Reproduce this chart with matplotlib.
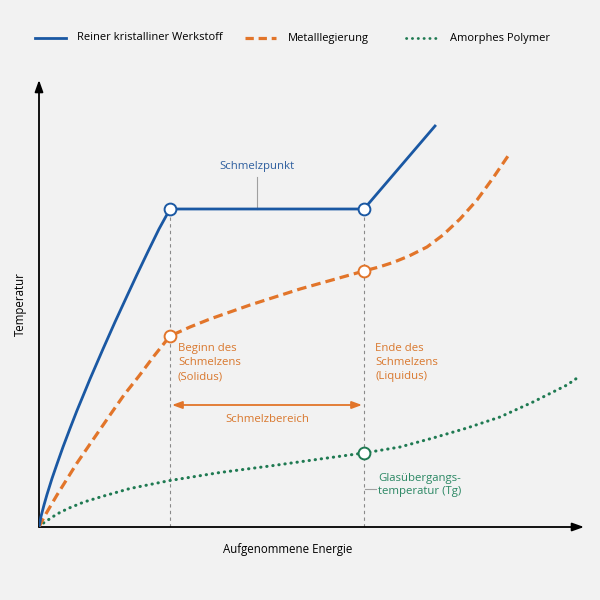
import matplotlib
matplotlib.use("Agg")
import matplotlib.pyplot as plt
from matplotlib.lines import Line2D

plt.rcParams['font.family'] = ['Open Sans', 'DejaVu Sans']

# ---- data (arbitrary units: energy on x, temperature on y) ----
blue_x = [0, 2, 5, 8, 13, 18, 24, 31, 38, 44, 51, 64, 76, 88, 98, 109, 120, 131, 325, 396]
blue_y = [0, 10.5, 22, 32.5, 48.5, 63, 80, 98.5, 116.5, 131, 148, 178, 205, 231, 252.5, 275.5, 298, 318, 318, 401]

orange_x = [0, 3, 8, 18, 28, 38, 49, 60, 71, 85, 100, 115, 131, 151, 171, 191, 211, 236, 261, 293,
            325, 340, 354, 370, 388, 404, 421, 438, 454, 469]
orange_y = [0, 6, 15, 32, 48, 64, 80, 96, 112, 132, 151, 171, 191, 200, 208, 215, 222, 230, 238, 247,
            256, 260, 264.5, 271, 280, 292, 308, 327, 349, 371]

green_x = [0, 3, 9, 18, 29, 45, 63, 91, 131, 181, 231, 281, 325, 361, 394, 428, 461, 494, 528, 541]
green_y = [0, 3, 7, 13, 18.5, 25, 30.5, 38.5, 46.5, 54.5, 61, 68, 74, 80, 89, 99, 110, 125, 142, 151]

melt_start_x = 131
melt_end_x = 325
melt_point_label_x = 218
blue_marks_y = [318, 318]
orange_marks_y = [191, 256]
green_mark_y = 74

legend_labels = ["Reiner kristalliner Werkstoff", "Metalllegierung", "Amorphes Polymer"]

BG = '#f2f2f2'
BLUE = '#1a58a3'
ORANGE = '#e2752a'
GREEN = '#1f7a52'
BLUE_T = '#2e5f9f'
ORANGE_T = '#d9782e'
GREEN_T = '#2a8763'
GRAY = '#8a8a8a'
FS = 8.2

fig = plt.figure(figsize=(6, 6), dpi=100, facecolor=BG)
ax = fig.add_axes([39/600, 73/600, 546/600, 449/600])
ax.set_facecolor(BG)
ax.set_xlim(0, 546)
ax.set_ylim(0, 449)
for s in ax.spines.values():
    s.set_visible(False)
ax.set_xticks([])
ax.set_yticks([])

# axes arrows
ax.annotate('', xy=(545, 0), xytext=(0, 0), annotation_clip=False,
            arrowprops=dict(arrowstyle='-|>,head_length=0.7,head_width=0.25', color='black', lw=1.3,
                            shrinkA=0, shrinkB=0))
ax.annotate('', xy=(0, 447), xytext=(0, 0), annotation_clip=False,
            arrowprops=dict(arrowstyle='-|>,head_length=0.7,head_width=0.25', color='black', lw=1.3,
                            shrinkA=0, shrinkB=0))

# vertical guide lines
for xv in (melt_start_x, melt_end_x):
    ax.plot([xv, xv], [0, blue_marks_y[0]], color=GRAY, lw=0.8, ls=(0, (3, 3)), zorder=1)

# curves
ax.plot(green_x, green_y, color=GREEN, lw=2.2, ls=(0, (0.1, 1.9)), dash_capstyle='round',
        solid_capstyle='round', zorder=3)
ax.plot(orange_x, orange_y, color=ORANGE, lw=2.3, ls=(0, (3.0, 1.6)), dash_capstyle='butt', zorder=3)
ax.plot(blue_x, blue_y, color=BLUE, lw=2.0, zorder=4)

# markers
ax.plot([melt_start_x, melt_end_x], blue_marks_y, 'o', ms=8.5, mfc='white', mec=BLUE, mew=1.4, zorder=5)
ax.plot([melt_start_x, melt_end_x], orange_marks_y, 'o', ms=8.5, mfc='white', mec=ORANGE, mew=1.4, zorder=5)
ax.plot([melt_end_x], [green_mark_y], 'o', ms=8.5, mfc='white', mec=GREEN, mew=1.4, zorder=5)

# Schmelzpunkt annotation
ax.plot([melt_point_label_x, melt_point_label_x], [blue_marks_y[0], 350], color='#a0a0a0', lw=0.8, zorder=2)
ax.text(melt_point_label_x, 361, "Schmelzpunkt", color=BLUE_T, fontsize=FS, ha='center', va='center')

# Solidus / Liquidus texts
ax.text(melt_start_x + 8, 184, "Beginn des\nSchmelzens\n(Solidus)", color=ORANGE_T, fontsize=FS,
        ha='left', va='top', linespacing=1.4)
ax.text(melt_end_x + 11, 184, "Ende des\nSchmelzens\n(Liquidus)", color=ORANGE_T, fontsize=FS,
        ha='left', va='top', linespacing=1.4)

# Schmelzbereich arrow
mid = (melt_start_x + melt_end_x) / 2
ax.annotate('', xy=(melt_end_x - 2, 122), xytext=(melt_start_x + 2, 122),
            arrowprops=dict(arrowstyle='<|-|>,head_length=0.6,head_width=0.22', color=ORANGE, lw=1.3,
                            shrinkA=0, shrinkB=0))
ax.text(mid, 107, "Schmelzbereich", color=ORANGE_T, fontsize=FS, ha='center', va='center')

# Glasuebergang
ax.plot([melt_end_x + 1, melt_end_x + 12], [38, 38], color='#a0a0a0', lw=0.8)
ax.text(melt_end_x + 14, 54, "Glasübergangs-\ntemperatur (Tg)", color=GREEN_T, fontsize=FS,
        ha='left', va='top', linespacing=1.3)

# axis labels
fig.text(20/600, 1 - 304/600, "Temperatur", rotation=90, fontsize=8.3, ha='center', va='center', color='black')
fig.text(288/600, 1 - 549/600, "Aufgenommene Energie", fontsize=8.3, ha='center', va='center', color='black')

# legend (manual)
ly = 1 - 38/600
fig.add_artist(Line2D([35/600, 66/600], [ly, ly], color=BLUE, lw=2.0))
fig.text(77/600, ly, legend_labels[0], fontsize=8.0, va='center', ha='left')
fig.add_artist(Line2D([245/600, 276/600], [ly, ly], color=ORANGE, lw=2.3, ls=(0, (2.6, 1.5))))
fig.text(288/600, ly, legend_labels[1], fontsize=8.0, va='center', ha='left')
fig.add_artist(Line2D([406/600, 438/600], [ly, ly], color=GREEN, lw=2.0, ls=(0, (0.1, 2.0)),
                      dash_capstyle='round'))
fig.text(450/600, ly, legend_labels[2], fontsize=8.0, va='center', ha='left')

fig.savefig("out.png", dpi=100, facecolor=BG)
